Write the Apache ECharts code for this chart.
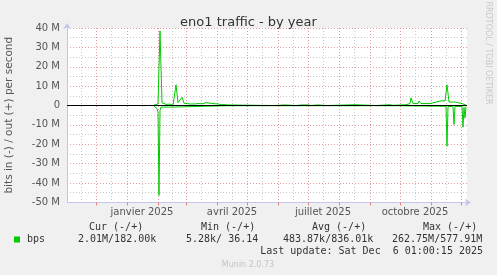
<!DOCTYPE html>
<html><head><meta charset="utf-8">
<script src="https://cdn.jsdelivr.net/npm/echarts@6/dist/echarts.min.js"></script>
<style>html,body{margin:0;padding:0;background:#f0f0f0;}#c{width:497px;height:275px;}</style>
</head><body><div id="c"></div>
<script>
// ---- data ----
const startDate = '2024-11-02';
const endDate = '2025-12-07';
// out (+) traffic, Mbit/s
const outPoints = [
 ['2025-01-28',0.2],['2025-01-30',0.5],['2025-02-01',0.8],['2025-02-03',38.5],['2025-02-05',1.4],
 ['2025-02-07',0.8],['2025-02-09',0.6],['2025-02-11',1.2],['2025-02-13',0.7],['2025-02-15',0.9],
 ['2025-02-16',0.1],['2025-02-17',0.8],['2025-02-19',10.7],['2025-02-21',1.5],['2025-02-23',1.2],
 ['2025-02-25',4.2],['2025-02-27',1.2],['2025-03-01',0.9],['2025-03-05',0.8],['2025-03-10',0.8],
 ['2025-03-13',1.0],['2025-03-15',1.3],['2025-03-18',0.9],['2025-03-21',1.5],['2025-03-23',1.0],
 ['2025-03-25',1.2],['2025-03-27',0.8],['2025-03-30',0.9],['2025-04-01',0.4],['2025-04-02',0.8],
 ['2025-04-05',0.4],['2025-04-08',0.5],['2025-04-11',0.3],['2025-04-12',0],
 ['2025-05-28',0],['2025-05-29',0.3],['2025-06-08',0.3],['2025-06-09',0],
 ['2025-06-19',0],['2025-06-20',0.3],['2025-06-25',0.3],['2025-06-27',0.8],['2025-06-28',0.3],
 ['2025-07-01',0.3],['2025-07-02',0],['2025-07-04',0],['2025-07-05',0.3],['2025-07-11',0.3],
 ['2025-07-12',0],['2025-07-20',0],['2025-07-21',0.4],['2025-08-17',0.4],['2025-08-18',0],
 ['2025-09-07',0],['2025-09-08',0.4],['2025-09-21',0.4],['2025-09-23',0.9],['2025-09-24',0.1],
 ['2025-09-26',0.4],['2025-10-07',0.4],['2025-10-09',1.0],['2025-10-11',1.0],['2025-10-12',4.0],
 ['2025-10-14',1.0],['2025-10-19',1.0],['2025-10-20',2.3],['2025-10-22',1.0],['2025-10-28',1.0],
 ['2025-10-29',1.8],['2025-10-31',1.0],['2025-11-02',2.0],['2025-11-08',2.0],['2025-11-10',2.0],
 ['2025-11-12',2.5],['2025-11-15',2.3],['2025-11-17',10.7],['2025-11-19',1.8],['2025-11-25',1.8],
 ['2025-11-27',1.0],['2025-12-02',1.0],['2025-12-03',0.3],['2025-12-04',1.5],['2025-12-06',0.2]
];
// in (-) traffic, Mbit/s (drawn negative)
const inPoints = [
 ['2025-01-28',-0.3],['2025-01-29',-1.3],['2025-01-31',-1.5],['2025-02-01',-3.5],['2025-02-02',-46.4],
 ['2025-02-03',-2.5],['2025-02-04',-0.8],['2025-02-06',-0.3],['2025-02-16',-0.8],['2025-02-18',-0.2],
 ['2025-04-11',-0.1],['2025-09-23',-0.1],['2025-09-24',-0.7],['2025-09-26',-0.1],['2025-11-16',-0.4],
 ['2025-11-17',-21],['2025-11-18',-0.5],['2025-11-23',-0.5],['2025-11-24',-9.8],['2025-11-25',-0.5],
 ['2025-12-02',-0.5],['2025-12-03',-11.2],['2025-12-04',-1],['2025-12-05',-6.5],['2025-12-06',-0.5]
];
const monthStarts = ['2024-12-01','2025-01-01','2025-02-01','2025-03-01','2025-04-01','2025-05-01',
 '2025-06-01','2025-07-01','2025-08-01','2025-09-01','2025-10-01','2025-11-01','2025-12-01'];
const midMonths = ['2024-11-16','2024-12-16','2025-01-16','2025-02-15','2025-03-16','2025-04-16','2025-05-16',
 '2025-06-16','2025-07-16','2025-08-16','2025-09-16','2025-10-16','2025-11-16'];
const xLabelDates = ['2025-01-16','2025-04-16','2025-07-16','2025-10-16'];
const xLabels = ['janvier 2025','avril 2025','juillet 2025','octobre 2025'];
const yMin = -50, yMax = 40, yStep = 10;
const legendHeaders = ['Cur (-/+)','Min (-/+)','Avg (-/+)','Max (-/+)'];
const legendValues = ['2.01M/182.00k','5.28k/ 36.14','483.87k/836.01k','262.75M/577.91M'];
const seriesName = 'bps';
const titleText = 'eno1 traffic - by year';
const yName = 'bits in (-) / out (+) per second';
const lastUpdate = 'Last update: Sat Dec  6 01:00:15 2025';

// ---- build categories (one per day) ----
function iso(d){return d.toISOString().slice(0,10);}
const categories = [];
for (let d = new Date(startDate+'T00:00:00Z'); iso(d) <= endDate; d.setUTCDate(d.getUTCDate()+1)) categories.push(iso(d));
const idx = {}; categories.forEach((c,i)=>idx[c]=i);
const toData = pts => pts.map(p => [idx[p[0]], p[1]]);

const mono = 'DejaVu Sans Mono';
const sans = 'DejaVu Sans';
const graphics = [];
const hdrX = [89, 201, 312, 423];
legendHeaders.forEach((t,i)=>graphics.push({type:'text',left:hdrX[i],top:222,style:{text:t,font:'10px '+mono,fill:'#333'}}));
const valX = [78, 186, 283, 392];
legendValues.forEach((t,i)=>graphics.push({type:'text',left:valX[i],top:234,style:{text:t,font:'10px '+mono,fill:'#333'}}));
graphics.push({type:'rect',shape:{x:14,y:236.5,width:6,height:6},style:{fill:'#00cc00'}});
graphics.push({type:'text',left:27,top:234,style:{text:seriesName,font:'10px '+mono,fill:'#333'}});
graphics.push({type:'text',right:14,top:246,style:{text:lastUpdate,font:'10px '+mono,fill:'#333'}});
graphics.push({type:'text',x:248,y:264.5,style:{text:'Munin 2.0.73',font:'8px '+sans,fill:'#c4c4c4',align:'center',verticalAlign:'middle'}});
graphics.push({type:'text',x:488,y:53,rotation:-Math.PI/2,style:{text:'RRDTOOL / TOBI OETIKER',font:'8px '+sans,fill:'#c8c8c8',align:'center',verticalAlign:'middle'}});

const redGrid = '#e39a9a', greyGrid = '#c8c8c8', axisCol = '#c4c4ee';
const chart = echarts.init(document.getElementById('c'), null, {renderer:'canvas'});
chart.setOption({
  animation:false,
  backgroundColor:'#f0f0f0',
  title:{text:titleText,left:'center',top:11,textStyle:{fontFamily:sans,fontSize:13,fontWeight:'normal',color:'#333'}},
  grid:{left:67,top:28,width:400,height:174.4,show:true,backgroundColor:'#fff',borderWidth:0,containLabel:false,outerBoundsMode:'none'},
  xAxis:[{
    type:'category',data:categories,boundaryGap:false,
    axisLine:{show:true,onZero:false,lineStyle:{color:axisCol},symbol:['none','arrow'],symbolSize:[6,6],symbolOffset:[0,4]},
    axisTick:{show:true,length:3,interval:(i,v)=>monthStarts.includes(v),lineStyle:{color:'#e08080'}},
    splitLine:{show:true,interval:(i,v)=>monthStarts.includes(v),lineStyle:{color:redGrid,type:[1,2]}},
    axisLabel:{interval:(i,v)=>xLabelDates.includes(v),formatter:v=>xLabels[xLabelDates.indexOf(v)],
      margin:5,fontFamily:sans,fontSize:10,color:'#555'}
  },{
    type:'category',data:categories,boundaryGap:false,position:'bottom',
    axisLine:{show:false,onZero:false},axisTick:{show:false},axisLabel:{show:false},
    splitLine:{show:true,interval:(i,v)=>midMonths.includes(v),lineStyle:{color:greyGrid,type:[1,2]}}
  }],
  yAxis:{
    type:'value',min:yMin,max:yMax,interval:yStep,
    name:yName,nameLocation:'middle',nameRotate:90,nameGap:52,
    nameTextStyle:{fontFamily:sans,fontSize:10.5,color:'#555'},
    axisLine:{show:true,onZero:false,lineStyle:{color:axisCol},symbol:['none','arrow'],symbolSize:[6,6],symbolOffset:[0,5]},
    axisTick:{show:false},
    axisLabel:{formatter:v=>v===0?'0':v+' M',margin:7,fontFamily:sans,fontSize:10,color:'#555'},
    splitLine:{show:true,lineStyle:{color:redGrid,type:[1,2]}},
    minorTick:{show:false,splitNumber:2},
    minorSplitLine:{show:true,lineStyle:{color:greyGrid,type:[1,2]}}
  },
  series:[
    {name:'out',type:'line',data:toData(outPoints),symbol:'none',showSymbol:false,lineStyle:{color:'#00cc00',width:1},z:2},
    {name:'in',type:'line',data:toData(inPoints),symbol:'none',showSymbol:false,lineStyle:{color:'#00cc00',width:1},z:3},
    {name:'zero',type:'line',data:[[0,0],[categories.length-1,0]],symbol:'none',showSymbol:false,lineStyle:{color:'#000',width:1},z:5,silent:true}
  ],
  graphic:graphics
});
</script></body></html>
